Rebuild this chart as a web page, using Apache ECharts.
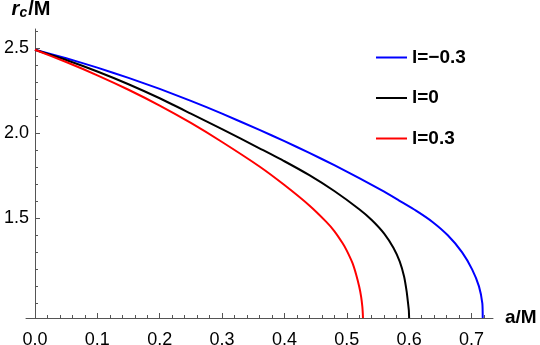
<!DOCTYPE html>
<html>
<head>
<meta charset="utf-8">
<script src="https://cdn.jsdelivr.net/npm/echarts@6/dist/echarts.min.js"></script>
<style>
html,body{margin:0;padding:0;background:#fff;}
#chart{width:540px;height:345px;}
</style>
</head>
<body>
<div id="chart"></div>
<script>
// ---- data ----
const seriesNames = ['l=\u22120.3', 'l=0', 'l=0.3'];

const aBlue = [0, 0.05, 0.1, 0.15, 0.2, 0.25, 0.3, 0.36, 0.4, 0.44, 0.48, 0.52, 0.56, 0.584, 0.611, 0.637, 0.662, 0.685, 0.701, 0.712, 0.7174, 0.718];
const rBlue = [2.49, 2.44, 2.385, 2.325, 2.26, 2.19, 2.115, 2.019, 1.953, 1.884, 1.812, 1.736, 1.656, 1.604, 1.545, 1.48, 1.40, 1.30, 1.20, 1.10, 1.00, 0.914];

const aBlack = [0, 0.05, 0.1, 0.15, 0.2, 0.25, 0.3, 0.36, 0.4, 0.44, 0.48, 0.52, 0.54, 0.56, 0.575, 0.585, 0.592, 0.596, 0.598, 0.5995, 0.6];
const rBlack = [2.49, 2.43, 2.3625, 2.2875, 2.205, 2.115, 2.024, 1.911, 1.835, 1.753, 1.66, 1.553, 1.49, 1.41, 1.325, 1.245, 1.156, 1.07, 1.01, 0.96, 0.914];

const aRed = [0, 0.05, 0.1, 0.15, 0.2, 0.25, 0.3, 0.36, 0.4, 0.44, 0.4668, 0.48, 0.4934, 0.5, 0.5094, 0.515, 0.52, 0.523, 0.525, 0.5257, 0.526];
const rRed = [2.49, 2.418, 2.34, 2.255, 2.162, 2.06, 1.948, 1.804, 1.695, 1.575, 1.48, 1.425, 1.353, 1.31, 1.235, 1.17, 1.098, 1.04, 0.98, 0.94, 0.914];

const xMajorTicks = [0, 0.1, 0.2, 0.3, 0.4, 0.5, 0.6, 0.7];
const xMinorTicks = [0.02, 0.04, 0.06, 0.08, 0.12, 0.14, 0.16, 0.18, 0.22, 0.24, 0.26, 0.28, 0.32, 0.34, 0.36, 0.38, 0.42, 0.44, 0.46, 0.48, 0.52, 0.54, 0.56, 0.58, 0.62, 0.64, 0.66, 0.68, 0.72];
const yMajorTicks = [1.5, 2.0, 2.5];
const yMinorTicks = [1.0, 1.1, 1.2, 1.3, 1.4, 1.6, 1.7, 1.8, 1.9, 2.1, 2.2, 2.3, 2.4, 2.6];

const colors = ['#0000ff', '#000000', '#ff0000'];

// ---- chart ----
const pairs = (xs, ys) => xs.map((x, i) => [x, ys[i]]);
const axisGray = '#555555';
const FONT = '"Liberation Sans", Arial, sans-serif';

const chart = echarts.init(document.getElementById('chart'), null, {renderer: 'canvas'});

const xRange = {min: -0.0144, max: 0.7345};
const yRange = {min: 0.914, max: 2.612};
const yAxisShift = -9; // y axis sits at a = 0, a little inside the plot's left edge

const option = {
  animation: false,
  backgroundColor: '#ffffff',
  textStyle: {fontFamily: FONT},
  grid: {left: 26, right: 47, top: 29, bottom: 27, containLabel: false, outerBoundsMode: 'none'},
  legend: {
    orient: 'vertical',
    left: 371,
    top: 43,
    itemWidth: 31,
    itemHeight: 2,
    itemGap: 21.5,
    icon: 'rect',
    data: seriesNames,
    textStyle: {fontFamily: FONT, fontSize: 19, fontWeight: 'bold', color: '#000', padding: [0, 0, 0, 0]}
  },
  xAxis: [
    {
      type: 'value', ...xRange,
      name: 'a/M', nameLocation: 'end', nameGap: 12,
      nameTextStyle: {fontFamily: FONT, fontSize: 19, fontWeight: 'bold', color: '#000', padding: [6, 0, 0, 0]},
      axisLine: {onZero: false, lineStyle: {color: axisGray, width: 1}},
      axisTick: {inside: true, length: 5, customValues: xMajorTicks, lineStyle: {color: axisGray}},
      axisLabel: {customValues: xMajorTicks, formatter: v => v.toFixed(1), fontSize: 18, color: '#000', margin: 13, fontFamily: FONT},
      splitLine: {show: false}
    },
    {
      type: 'value', ...xRange, position: 'bottom',
      axisLine: {show: false, onZero: false},
      axisTick: {inside: true, length: 3, customValues: xMinorTicks, lineStyle: {color: axisGray}},
      axisLabel: {show: false},
      splitLine: {show: false}
    }
  ],
  yAxis: [
    {
      type: 'value', ...yRange, position: 'left', offset: yAxisShift,
      name: '{r|r}{c|c}{m|/M}', nameLocation: 'end', nameGap: 9,
      nameTextStyle: {
        padding: [0, 8, 0, 0],
        rich: {
          r: {fontFamily: FONT, fontSize: 20, fontStyle: 'italic', fontWeight: 'bold', color: '#000', lineHeight: 22},
          c: {fontFamily: FONT, fontSize: 14, fontStyle: 'italic', fontWeight: 'bold', color: '#000', verticalAlign: 'bottom', lineHeight: 14, padding: [8, 1, 0, 0]},
          m: {fontFamily: FONT, fontSize: 20, fontWeight: 'bold', color: '#000', lineHeight: 22}
        }
      },
      axisLine: {onZero: false, lineStyle: {color: axisGray, width: 1}},
      axisTick: {inside: true, length: 5, customValues: yMajorTicks, lineStyle: {color: axisGray}},
      axisLabel: {customValues: yMajorTicks, formatter: v => v.toFixed(1), fontSize: 18, color: '#000', margin: 6, fontFamily: FONT},
      splitLine: {show: false}
    },
    {
      type: 'value', ...yRange, position: 'left', offset: yAxisShift,
      axisLine: {show: false, onZero: false},
      axisTick: {inside: true, length: 3, customValues: yMinorTicks, lineStyle: {color: axisGray}},
      axisLabel: {show: false},
      splitLine: {show: false}
    }
  ],
  series: [
    {name: seriesNames[0], type: 'line', data: pairs(aBlue, rBlue)},
    {name: seriesNames[1], type: 'line', data: pairs(aBlack, rBlack)},
    {name: seriesNames[2], type: 'line', data: pairs(aRed, rRed)}
  ].map((s, i) => Object.assign(s, {
    xAxisIndex: 0, yAxisIndex: 0,
    showSymbol: false, symbol: 'none',
    smooth: 0.2,
    clip: true,
    color: colors[i],
    lineStyle: {color: colors[i], width: 2}
  }))
};

chart.setOption(option);
</script>
</body>
</html>
